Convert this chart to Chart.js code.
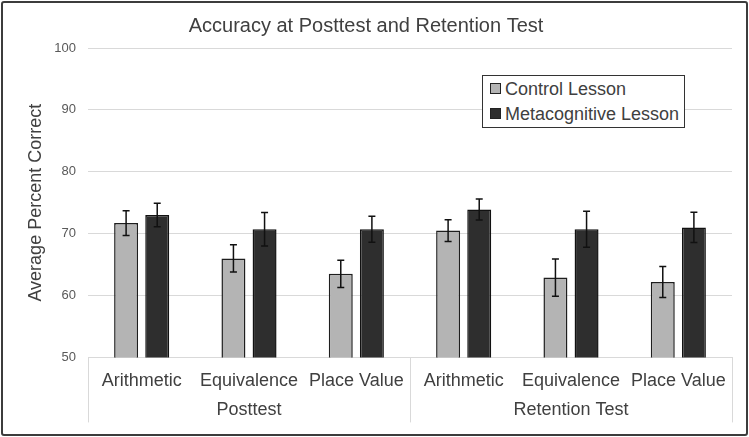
<!DOCTYPE html>
<html>
<head>
<meta charset="utf-8">
<script src="https://cdn.jsdelivr.net/npm/chart.js@4/dist/chart.umd.min.js"></script>
<style>
  body { margin: 0; background: #fff; }
  #wrap { position: relative; width: 749px; height: 437px; }
  #frame { position: absolute; left: 1px; top: 1px; width: 743px; height: 431px; border: 2px solid #3c3c3c; border-radius: 3px; pointer-events: none; }
  #legend { position: absolute; left: 482px; top: 75px; width: 201px; height: 51px; border: 1.5px solid #333; background: #fff;
    font-family: "Liberation Sans", Arial, sans-serif; font-size: 18px; color: #404040; }
  .item { position: absolute; left: 7px; height: 20px; line-height: 20px; white-space: nowrap; }
  .sw { display: inline-block; width: 9px; height: 9px; border: 1px solid #222; margin-right: 4px; vertical-align: 1px; }
</style>
</head>
<body>
<div id="wrap">
  <canvas id="chart" width="749" height="437"></canvas>
  <div id="legend">
    <div class="item" style="top:3px"><span class="sw" style="background:#b4b4b4"></span>Control Lesson</div>
    <div class="item" style="top:28px"><span class="sw" style="background:#2e2e2e"></span>Metacognitive Lesson</div>
  </div>
  <div id="frame"></div>
</div>
<script>
const categories = ["Arithmetic", "Equivalence", "Place Value", "Arithmetic", "Equivalence", "Place Value"];
const groups = ["Posttest", "Retention Test"];
const controlValues = [71.7, 66.0, 63.5, 70.5, 62.9, 62.2];
const controlErr = [2.0, 2.2, 2.2, 1.75, 3.0, 2.5];
const metaValues = [73.0, 70.7, 70.7, 73.9, 70.7, 71.0];
const metaErr = [1.9, 2.7, 2.1, 1.7, 2.9, 2.45];
const yTicks = [50, 60, 70, 80, 90, 100];

const FONT = '"Liberation Sans", Arial, sans-serif';

// error bars drawn on top of each bar
const errorBars = {
  id: "errorBars",
  afterDatasetsDraw(chart) {
    const ctx = chart.ctx;
    const y = chart.scales.y;
    chart.data.datasets.forEach((ds, i) => {
      const meta = chart.getDatasetMeta(i);
      meta.data.forEach((bar, j) => {
        const v = ds.data[j], e = ds.errors[j];
        const top = y.getPixelForValue(v + e);
        const bot = y.getPixelForValue(v - e);
        ctx.save();
        ctx.strokeStyle = "#111";
        ctx.lineWidth = 1.5;
        ctx.beginPath();
        ctx.moveTo(bar.x, top); ctx.lineTo(bar.x, bot);
        ctx.moveTo(bar.x - 3.5, top); ctx.lineTo(bar.x + 3.5, top);
        ctx.moveTo(bar.x - 3.5, bot); ctx.lineTo(bar.x + 3.5, bot);
        ctx.stroke();
        ctx.restore();
      });
    });
  }
};

// group labels under the category labels, with separators
const groupAxis = {
  id: "groupAxis",
  afterDraw(chart) {
    const ctx = chart.ctx;
    const area = chart.chartArea;
    const n = categories.length / groups.length;
    const step = (area.right - area.left) / categories.length;
    ctx.save();
    ctx.strokeStyle = "#d9d9d9";
    ctx.lineWidth = 1;
    for (let g = 0; g <= groups.length; g++) {
      const x = Math.round(area.left + g * n * step) + 0.5;
      ctx.beginPath();
      ctx.moveTo(x, area.bottom);
      ctx.lineTo(x, area.bottom + 65);
      ctx.stroke();
    }
    ctx.fillStyle = "#404040";
    ctx.font = "18px " + FONT;
    ctx.textAlign = "center";
    ctx.textBaseline = "middle";
    groups.forEach((label, g) => {
      ctx.fillText(label, area.left + (g + 0.5) * n * step, area.bottom + 53);
    });
    ctx.restore();
  }
};

new Chart(document.getElementById("chart"), {
  type: "bar",
  data: {
    labels: categories,
    datasets: [
      { label: "Control Lesson", data: controlValues, errors: controlErr,
        backgroundColor: "#b4b4b4", borderColor: "#1e1e1e", borderWidth: 1.5 },
      { label: "Metacognitive Lesson", data: metaValues, errors: metaErr,
        backgroundColor: "#2e2e2e", borderColor: "#111", borderWidth: 1.5 }
    ]
  },
  options: {
    responsive: false,
    animation: false,
    layout: { padding: { top: 6, right: 17, bottom: 40, left: 0 } },
    datasets: { bar: { categoryPercentage: 0.58, barPercentage: 0.77 } },
    plugins: {
      legend: { display: false },
      tooltip: { enabled: false },
      title: {
        display: true,
        text: "Accuracy at Posttest and Retention Test",
        color: "#404040",
        font: { family: FONT, size: 20, weight: "normal" },
        padding: { top: 8, bottom: 10 }
      }
    },
    scales: {
      x: {
        grid: { display: false },
        border: { display: true, color: "#d9d9d9" },
        ticks: { color: "#404040", font: { family: FONT, size: 18 }, padding: 5, maxRotation: 0 }
      },
      y: {
        min: 50,
        max: 100,
        afterFit(scale) { scale.width = 88; },
        afterBuildTicks(scale) { scale.ticks = yTicks.map(v => ({ value: v })); },
        grid: { color: "#d9d9d9", drawTicks: false },
        border: { display: false },
        ticks: { color: "#595959", font: { family: FONT, size: 13 }, padding: 12 },
        title: {
          display: true,
          text: "Average Percent Correct",
          color: "#404040",
          font: { family: FONT, size: 18 },
          padding: { top: 25, bottom: 0 }
        }
      }
    }
  },
  plugins: [errorBars, groupAxis]
});
</script>
</body>
</html>
